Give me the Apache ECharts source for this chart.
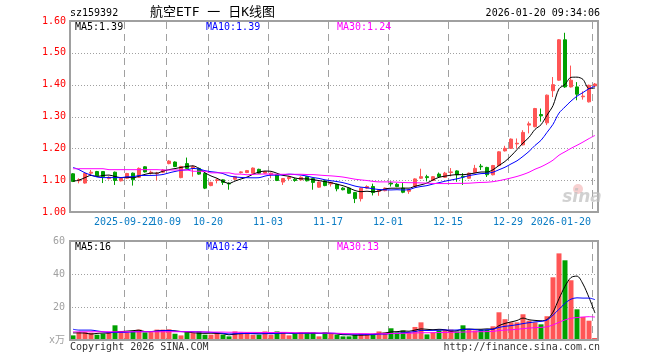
<!DOCTYPE html>
<html><head><meta charset="utf-8">
<script src="https://cdn.jsdelivr.net/npm/echarts@6/dist/echarts.min.js"></script>
<style>html,body{margin:0;padding:0;background:#fff}#c{width:660px;height:360px}</style>
</head><body><div id="c"></div>
<script>
const dates = [
'2025-09-09','2025-09-10','2025-09-11','2025-09-12','2025-09-15','2025-09-16','2025-09-17','2025-09-18','2025-09-19','2025-09-22',
'2025-09-23','2025-09-24','2025-09-25','2025-09-26','2025-09-29','2025-09-30','2025-10-09','2025-10-10','2025-10-13','2025-10-14',
'2025-10-15','2025-10-16','2025-10-17','2025-10-20','2025-10-21','2025-10-22','2025-10-23','2025-10-24','2025-10-27','2025-10-28',
'2025-10-29','2025-10-30','2025-10-31','2025-11-03','2025-11-04','2025-11-05','2025-11-06','2025-11-07','2025-11-10','2025-11-11',
'2025-11-12','2025-11-13','2025-11-14','2025-11-17','2025-11-18','2025-11-19','2025-11-20','2025-11-21','2025-11-24','2025-11-25',
'2025-11-26','2025-11-27','2025-11-28','2025-12-01','2025-12-02','2025-12-03','2025-12-04','2025-12-05','2025-12-08','2025-12-09',
'2025-12-10','2025-12-11','2025-12-12','2025-12-15','2025-12-16','2025-12-17','2025-12-18','2025-12-19','2025-12-22','2025-12-23',
'2025-12-24','2025-12-25','2025-12-26','2025-12-29','2025-12-30','2025-12-31','2026-01-05','2026-01-06','2026-01-07','2026-01-08',
'2026-01-09','2026-01-12','2026-01-13','2026-01-14','2026-01-15','2026-01-16','2026-01-19','2026-01-20'];

const open = [1.120,1.098,1.091,1.122,1.127,1.127,1.105,1.125,1.098,1.106,
1.122,1.109,1.142,1.122,1.120,1.125,1.152,1.157,1.108,1.152,
1.137,1.137,1.121,1.083,1.099,1.101,1.090,1.103,1.124,1.124,
1.122,1.134,1.122,1.117,1.117,1.094,1.105,1.103,1.101,1.111,
1.105,1.078,1.098,1.088,1.087,1.075,1.075,1.061,1.042,1.075,
1.080,1.065,1.067,1.091,1.087,1.075,1.065,1.080,1.106,1.111,
1.099,1.119,1.109,1.124,1.129,1.112,1.106,1.124,1.144,1.140,
1.117,1.146,1.192,1.200,1.214,1.211,1.273,1.268,1.306,1.280,
1.381,1.414,1.541,1.393,1.393,1.362,1.346,1.396];

const close = [1.096,1.102,1.121,1.125,1.114,1.111,1.109,1.099,1.106,1.121,
1.101,1.137,1.126,1.125,1.122,1.132,1.160,1.143,1.143,1.137,
1.142,1.119,1.075,1.093,1.101,1.093,1.088,1.111,1.126,1.130,
1.138,1.122,1.127,1.122,1.099,1.105,1.109,1.099,1.109,1.098,
1.093,1.094,1.083,1.093,1.073,1.070,1.059,1.042,1.075,1.080,
1.061,1.070,1.075,1.088,1.080,1.062,1.070,1.104,1.111,1.108,
1.111,1.111,1.122,1.126,1.117,1.110,1.122,1.137,1.142,1.117,
1.146,1.189,1.200,1.229,1.216,1.250,1.277,1.325,1.302,1.367,
1.400,1.541,1.393,1.414,1.370,1.364,1.398,1.402];

const low = [1.094,1.090,1.089,1.115,1.112,1.091,1.102,1.085,1.096,1.104,
1.083,1.107,1.124,1.118,1.099,1.122,1.150,1.141,1.106,1.135,
1.111,1.117,1.072,1.081,1.090,1.085,1.070,1.101,1.121,1.122,
1.120,1.120,1.120,1.106,1.097,1.085,1.100,1.095,1.099,1.096,
1.070,1.076,1.081,1.080,1.065,1.068,1.057,1.028,1.033,1.072,
1.052,1.051,1.065,1.080,1.078,1.059,1.057,1.078,1.104,1.096,
1.097,1.109,1.107,1.112,1.095,1.085,1.104,1.122,1.132,1.110,
1.115,1.144,1.190,1.198,1.200,1.209,1.247,1.266,1.284,1.273,
1.361,1.412,1.390,1.391,1.351,1.353,1.344,1.394];

const high = [1.122,1.106,1.123,1.132,1.129,1.128,1.112,1.127,1.108,1.123,
1.124,1.140,1.144,1.130,1.126,1.135,1.163,1.159,1.145,1.171,
1.146,1.139,1.123,1.095,1.105,1.103,1.093,1.113,1.128,1.132,
1.140,1.136,1.129,1.124,1.119,1.107,1.112,1.107,1.112,1.113,
1.107,1.096,1.100,1.095,1.089,1.078,1.077,1.063,1.077,1.084,
1.089,1.072,1.077,1.096,1.091,1.091,1.072,1.106,1.136,1.117,
1.113,1.124,1.126,1.138,1.131,1.122,1.124,1.148,1.151,1.142,
1.148,1.191,1.208,1.231,1.231,1.257,1.284,1.327,1.325,1.369,
1.424,1.543,1.563,1.460,1.408,1.379,1.400,1.405];

// volume in 万
const volume = [2.8,4.8,4.8,4.4,3.2,3.8,4.8,8.9,4.8,4.6,
5.2,6.3,4.6,4.8,6.3,6.3,6.5,3.8,2.8,4.8,
4.2,5.2,3.2,3.2,4.0,3.2,2.2,5.2,4.6,4.6,
3.2,3.2,5.2,3.2,5.2,4.8,2.8,4.0,4.6,4.6,
4.6,2.2,4.6,3.8,3.2,2.2,2.2,3.2,3.8,3.8,
3.8,5.2,4.5,7.1,4.6,5.8,4.6,7.9,10.7,3.4,
4.6,5.8,6.3,6.3,5.2,8.9,6.3,5.8,6.3,6.3,
8.3,16.8,12.6,10.7,10.7,15.6,11.7,10.7,9.5,14.4,
38.0,52.5,48.3,36.2,18.6,14.0,11.7,1.2];

// moving-average values before enough history is visible
const ma5Head = [1.097,1.100,1.108,1.115];
const ma10Head = [1.140,1.133,1.123,1.116,1.110,1.108,1.108,1.108,1.108];
const ma30Head = [1.136,1.136,1.136,1.136,1.136,1.136,1.133,1.133,1.133,1.133,1.133,1.133,1.133,1.133,1.133,
1.132,1.132,1.132,1.132,1.132,1.128,1.128,1.128,1.123,1.123,1.123,1.123,1.119,1.119];
const vma5Head = [4.3,4.3,4.2,3.6];
const vma10Head = [6.5,6.0,6.0,6.0,5.5,5.0,4.6,4.6,4.6];
const vma30Head = [5.0,5.0,5.0,5.0,5.0,5.0,5.0,5.0,5.0,5.0,5.0,5.0,5.0,5.0,5.0,5.0,5.0,5.0,5.0,5.0,
4.9,4.9,4.9,4.8,4.8,4.8,4.7,4.7,4.7];

const tickDates = ['2025-09-22','2025-10-09','2025-10-20','2025-11-03','2025-11-17','2025-12-01','2025-12-15','2025-12-29','2026-01-20'];
const tickLabels = ['2025-09-22','10-09','10-20','11-03','11-17','12-01','12-15','12-29','2026-01-20'];
const priceTicks = [1.00,1.10,1.20,1.30,1.40,1.50,1.60];
const volTicks = [0,20,40,60];

const maText = ['MA5:1.39','MA10:1.39','MA30:1.24'];
const vmaText = ['MA5:16','MA10:24','MA30:13'];

function ma(arr, n, head){
  return arr.map((v,i)=>{
    if(i < n-1) return head[i];
    let s=0; for(let k=i-n+1;k<=i;k++) s+=arr[k];
    return +(s/n).toFixed(4);
  });
}

const UP='#ff5555', DOWN='#00a000';
const MONO='"DejaVu Sans Mono", monospace';
const FONT10='10px "DejaVu Sans Mono", monospace';
const GRID_GRAY='#a0a0a0';
const tickIdx = tickDates.map(d=>dates.indexOf(d));
const LAST = tickDates.length-1;

// panel geometry
const PLOT_LEFT=70, PLOT_W=528, MAIN_TOP=21, MAIN_H=191, VOL_TOP=241, VOL_H=99;
const PXU = dates.length / PLOT_W; // band units per pixel

const kData = dates.map((d,i)=>[open[i],close[i],low[i],high[i]]);
const volData = volume.map((v,i)=>({value:v,itemStyle:{color: close[i]>=open[i]?UP:DOWN}}));

const maLine = (name,data,color,xi,yi)=>({name,type:'line',data,xAxisIndex:xi,yAxisIndex:yi,showSymbol:false,symbol:'none',smooth:0.3,
  lineStyle:{color,width:1},itemStyle:{color},silent:true,z:20});

// guide lines (dotted value lines, dashed date lines) as broken line series on a band-unit x axis
function guideSeries(xi, yi, ticks, H){
  const min=ticks[0], max=ticks[ticks.length-1], range=max-min;
  const valAt = (py)=>max - py*range/H;              // py: pixel offset from the panel top
  const snapRow = (v)=>{ const p=(max-v)*H/range; return valAt(Math.round(p)+0.5); };
  const data=[];
  ticks.slice(1,-1).forEach(v=>{
    const yv = snapRow(v);
    for(let px=2; px<PLOT_W-1; px+=3){
      data.push([px*PXU, yv],[(px+1)*PXU, yv],[(px+1.5)*PXU, NaN]);
    }
  });
  tickIdx.forEach(idx=>{
    const x = idx + 0.5*PXU;
    for(let py=1; py<H-1; py+=12){
      data.push([x, valAt(py)],[x, valAt(Math.min(py+7, H-1))],[x, NaN]);
    }
  });
  return {type:'line',xAxisIndex:xi,yAxisIndex:yi,data,showSymbol:false,symbol:'none',connectNulls:false,
    lineStyle:{color:GRID_GRAY,width:1},itemStyle:{color:GRID_GRAY},silent:true,z:10,smooth:false,sampling:null};
}

// panel frame, drawn from the coordinate system's own rectangle
const frame = (xi, yi)=>({
  type:'custom', xAxisIndex:xi, yAxisIndex:yi, silent:true, clip:false, z:25,
  data:[[0,0]],
  renderItem:(params)=>{
    const cs = params.coordSys;
    return {type:'rect',shape:{x:cs.x,y:cs.y,width:cs.width,height:cs.height},
      style:{fill:null,stroke:GRID_GRAY,lineWidth:2}};
  }
});

// date labels under the price panel
const dateLabels = (xi, yi, yBase)=>({
  type:'custom', xAxisIndex:xi, yAxisIndex:yi, silent:true, clip:false, z:25,
  data: tickIdx.map((d,k)=>[d,k]), encode:{x:0},
  renderItem:(params, api)=>{
    const idx = api.value(0), k = api.value(1);
    const c = api.coord([idx, yBase]);
    const bw = api.size([1,0])[0];
    const x = Math.round(c[0]-bw/2);
    const cs = params.coordSys;
    return {type:'text',x:(k===LAST? x-1 : x),y:cs.y+cs.height+10,
      style:{text:tickLabels[k],fill:'#0a7cc4',font:FONT10,textAlign:(k===LAST?'right':'center'),textVerticalAlign:'middle'}};
  }
});

const txt = (id,x,y,text,fill,align,font)=>({id,type:'text',x,y,silent:true,z:100,
  style:{text,fill,font:font||FONT10,textAlign:align||'left',textVerticalAlign:'middle'}});

const chart = echarts.init(document.getElementById('c'), null, {renderer:'canvas'});
chart.setOption({
  animation:false,
  backgroundColor:'#ffffff',
  grid:[
    {left:PLOT_LEFT,width:PLOT_W,top:MAIN_TOP,height:MAIN_H,show:false,outerBoundsMode:'none'},
    {left:PLOT_LEFT,width:PLOT_W,top:VOL_TOP,height:VOL_H,show:false,outerBoundsMode:'none'}
  ],
  xAxis:[
    {type:'category',gridIndex:0,data:dates,boundaryGap:true,axisLine:{show:false},axisTick:{show:false},
     axisLabel:{show:false},splitLine:{show:false}},
    {type:'category',gridIndex:1,data:dates,boundaryGap:true,axisLine:{show:false},axisTick:{show:false},
     axisLabel:{show:false},splitLine:{show:false}},
    {type:'value',gridIndex:0,min:0,max:dates.length,show:false,splitLine:{show:false}},
    {type:'value',gridIndex:1,min:0,max:dates.length,show:false,splitLine:{show:false}}
  ],
  yAxis:[
    {type:'value',gridIndex:0,min:priceTicks[0],max:priceTicks[priceTicks.length-1],interval:0.1,
     axisLine:{show:false},axisTick:{show:false},
     axisLabel:{color:'#ff0000',fontFamily:MONO,fontSize:10,margin:4,formatter:v=>v.toFixed(2)},
     splitLine:{show:false}},
    {type:'value',gridIndex:1,min:volTicks[0],max:volTicks[volTicks.length-1],interval:20,
     axisLine:{show:false},axisTick:{show:false},
     axisLabel:{color:'#a0a0a0',fontFamily:MONO+', "Noto Sans CJK SC"',fontSize:10,margin:5,formatter:v=>v===0?'x万':String(v)},
     splitLine:{show:false}}
  ],
  series:[
    guideSeries(2,0,priceTicks,MAIN_H),
    guideSeries(3,1,volTicks,VOL_H),
    {name:'K',type:'candlestick',data:kData,xAxisIndex:0,yAxisIndex:0,barWidth:4,
     itemStyle:{color:UP,color0:DOWN,borderColor:UP,borderColor0:DOWN,borderWidth:1},silent:true,z:12},
    {name:'VOL',type:'bar',data:volData,xAxisIndex:1,yAxisIndex:1,barWidth:5,silent:true,z:12},
    dateLabels(0,0,priceTicks[0]),
    maLine('MA5',ma(close,5,ma5Head),'#000000',0,0),
    maLine('MA10',ma(close,10,ma10Head),'#0000ff',0,0),
    maLine('MA30',ma(close,30,ma30Head),'#ff00ff',0,0),
    maLine('VMA5',ma(volume,5,vma5Head),'#000000',1,1),
    maLine('VMA10',ma(volume,10,vma10Head),'#0000ff',1,1),
    maLine('VMA30',ma(volume,30,vma30Head),'#ff00ff',1,1),
    frame(0,0),
    frame(1,1)
  ],
  graphic:[
    txt('code',70,13,'sz159392','#000'),
    txt('title',150,13,'航空ETF 一 日K线图','#000','left','13px "DejaVu Sans Mono", "Noto Sans CJK SC"'),
    txt('time',600,13,'2026-01-20 09:34:06','#000','right'),
    txt('m5',75,27,maText[0],'#000'),
    txt('m10',206,27,maText[1],'#0000ff'),
    txt('m30',337,27,maText[2],'#ff00ff'),
    txt('v5',75,247,vmaText[0],'#000'),
    txt('v10',206,247,vmaText[1],'#0000ff'),
    txt('v30',337,247,vmaText[2],'#ff00ff'),
    txt('copy',70,347,'Copyright 2026 SINA.COM','#333'),
    txt('url',600,347,'http://finance.sina.com.cn','#333','right'),
    {id:'eye',type:'circle',shape:{cx:578,cy:189,r:5},style:{fill:'rgba(240,170,170,0.55)'},silent:true,z:1},
    txt('logo',582,198,'sina','rgba(190,190,190,0.7)','center','italic bold 17px "DejaVu Sans"')
  ]
});
</script></body></html>
